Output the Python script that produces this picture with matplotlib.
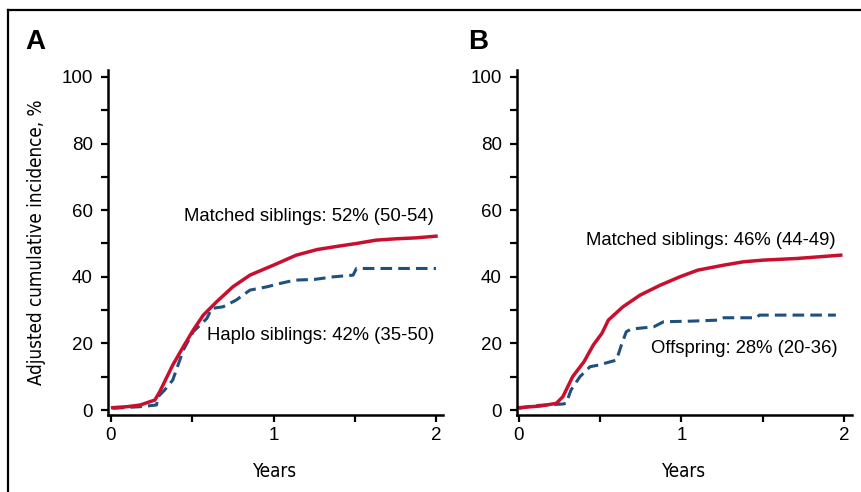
import matplotlib
matplotlib.use("Agg")
import matplotlib.pyplot as plt
from matplotlib import font_manager
from matplotlib.font_manager import FontProperties
from matplotlib.lines import Line2D

# panel A: matched siblings vs haplo siblings
a_red_x = [0.01, 0.10, 0.18, 0.27, 0.30, 0.34, 0.38, 0.445, 0.506, 0.568, 0.65, 0.75, 0.855,
           1.00, 1.14, 1.27, 1.40, 1.51, 1.63, 1.75, 1.88, 2.00]
a_red_y = [0.7, 1.0, 1.5, 3.0, 5.5, 9.5, 13.5, 19.0, 24.0, 28.5, 32.5, 37.0, 40.5,
           43.5, 46.5, 48.2, 49.2, 50.0, 51.0, 51.4, 51.7, 52.2]
a_blue_x = [0.01, 0.18, 0.28, 0.29, 0.33, 0.38, 0.445, 0.506, 0.59, 0.62, 0.69, 0.77,
            0.855, 0.96, 1.04, 1.13, 1.25, 1.37, 1.49, 1.51, 2.00]
a_blue_y = [0.5, 1.0, 1.5, 4.0, 6.0, 9.0, 18.0, 23.5, 27.5, 30.5, 31.0, 33.0,
            36.0, 37.0, 38.0, 39.0, 39.2, 40.0, 40.5, 42.5, 42.5]

# panel B: matched siblings vs offspring
b_red_x = [0.00, 0.13, 0.23, 0.27, 0.30, 0.33, 0.40, 0.457, 0.51, 0.55, 0.64, 0.745, 0.87,
           0.99, 1.10, 1.26, 1.38, 1.50, 1.71, 1.98]
b_red_y = [0.7, 1.2, 2.0, 4.0, 7.0, 10.0, 14.5, 19.5, 23.0, 27.0, 31.0, 34.5, 37.5,
           40.0, 42.0, 43.5, 44.5, 45.0, 45.5, 46.5]
b_blue_x = [0.00, 0.09, 0.27, 0.29, 0.32, 0.375, 0.437, 0.49, 0.60, 0.63, 0.66, 0.69,
            0.83, 0.89, 1.07, 1.23, 1.26, 1.46, 1.48, 1.95]
b_blue_y = [0.5, 1.3, 1.8, 2.0, 6.0, 10.0, 13.0, 13.5, 15.0, 19.5, 23.5, 24.3,
            25.0, 26.5, 26.7, 27.0, 27.7, 27.7, 28.5, 28.5]

a_labels = ["Matched siblings: 52% (50-54)", "Haplo siblings: 42% (35-50)"]
b_labels = ["Matched siblings: 46% (44-49)", "Offspring: 28% (20-36)"]

RED = "#c8102e"
BLUE = "#1f5080"

# condensed face for the axis titles if one is installed
cond = FontProperties(family="Liberation Sans", size=13)
for f in font_manager.fontManager.ttflist:
    if f.name in ("Liberation Sans Narrow", "Roboto Condensed") or \
            (f.name == "DejaVu Sans" and f.stretch == "condensed" and f.weight in (400, "normal")
             and f.style == "normal"):
        cond = FontProperties(fname=f.fname, size=13.5)
        break

plt.rcParams["font.family"] = ["Liberation Sans", "DejaVu Sans"]

fig = plt.figure(figsize=(8.62, 4.92), dpi=100)
W, H = 862, 492


def make_ax(left_px, x0_px):
    ax = fig.add_axes([left_px / W, 77 / H, 335 / W, 345 / H])
    ax.set_xlim(-(x0_px - left_px) / 162.5, (left_px + 335 - x0_px) / 162.5)
    ax.set_ylim(-1.5, 102.1)
    for s in ["top", "right"]:
        ax.spines[s].set_visible(False)
    for s in ["left", "bottom"]:
        ax.spines[s].set_linewidth(1.8)
    ax.set_xticks([0, 1, 2])
    ax.set_xticks([0.5, 1.5], minor=True)
    ax.set_yticks([0, 20, 40, 60, 80, 100])
    ax.set_yticks([10, 30, 50, 70, 90], minor=True)
    ax.tick_params(which="both", length=5, width=1.6, labelsize=13.5)
    ax.tick_params(axis="y", pad=6)
    ax.set_xlabel("Years", fontproperties=cond, labelpad=13)
    return ax


axA = make_ax(108, 111)
axB = make_ax(517, 519)

axA.plot(a_blue_x, a_blue_y, color=BLUE, lw=2.2, dashes=(3.8, 2.0))
axA.plot(a_red_x, a_red_y, color=RED, lw=2.5)
axB.plot(b_blue_x, b_blue_y, color=BLUE, lw=2.2, dashes=(3.8, 2.0))
axB.plot(b_red_x, b_red_y, color=RED, lw=2.5)

axA.text(1.99, 58, a_labels[0], ha="right", va="center", fontsize=13.3)
axA.text(1.99, 22.5, a_labels[1], ha="right", va="center", fontsize=13.3)
axB.text(1.95, 51, b_labels[0], ha="right", va="center", fontsize=13.3)
axB.text(1.96, 18.6, b_labels[1], ha="right", va="center", fontsize=13.3)

axA.set_ylabel("Adjusted cumulative incidence, %", fontproperties=cond, labelpad=11)

fig.text(25 / W, 1 - 42 / H, "A", fontsize=20, fontweight="bold", va="center", ha="left")
fig.text(468 / W, 1 - 42 / H, "B", fontsize=20, fontweight="bold", va="center", ha="left")

# frame lines (left and top)
fig.add_artist(Line2D([8 / W, 8 / W], [0, 1 - 10 / H], color="black", lw=1.6, transform=fig.transFigure))
fig.add_artist(Line2D([8 / W, 1], [1 - 10 / H, 1 - 10 / H], color="black", lw=1.6, transform=fig.transFigure))

fig.savefig("out.png", dpi=100)
